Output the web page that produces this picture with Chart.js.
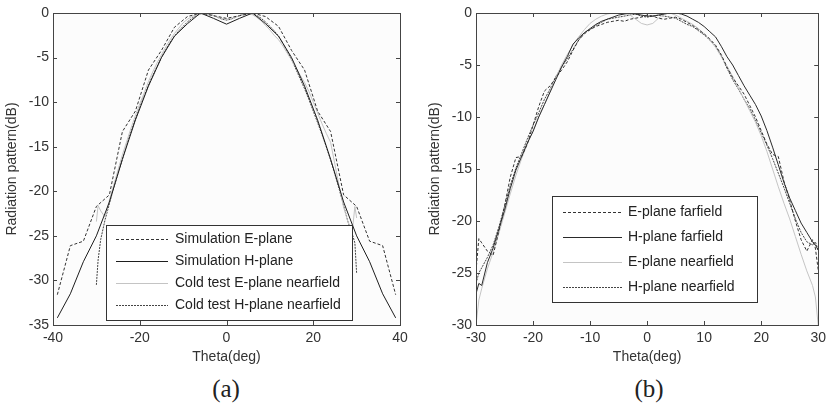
<!DOCTYPE html>
<html>
<head>
<meta charset="utf-8">
<script src="https://cdn.jsdelivr.net/npm/chart.js@4.4.0/dist/chart.umd.min.js"></script>
<style>
  body { margin:0; background:#fff; width:831px; height:406px; position:relative; overflow:hidden; }
  .box { position:absolute; top:0; height:370px; }
  #boxA { left:0; width:415px; }
  #boxB { left:415px; width:416px; }
  .cap { position:absolute; top:375px; width:100px; text-align:center; line-height:28px;
         font-family:"Liberation Serif","Times New Roman",serif; font-size:25px; color:#222; }
</style>
</head>
<body>
<div class="box" id="boxA"><canvas id="chartA"></canvas></div>
<div class="box" id="boxB"><canvas id="chartB"></canvas></div>
<div class="cap" style="left:176px">(a)</div>
<div class="cap" style="left:599px">(b)</div>
<script>
// ---- (a) simulation vs cold test ----
const simThetaA = [-39, -36, -33, -30, -27, -24, -21, -18, -15, -12, -9, -6, -3, 0, 3, 6, 9, 12, 15, 18, 21, 24, 27, 30, 33, 36, 39];
const simE_A = [-31.6, -26.1, -25.6, -21.7, -20.4, -13.3, -11.0, -6.4, -4.2, -1.6, -0.4, 0, -0.3, -0.6, -0.3, 0, -0.4, -1.5, -4.2, -6.4, -11.0, -13.3, -20.4, -21.7, -25.6, -26.1, -31.6];
const simH_A = [-34.2, -31.5, -27.9, -25.0, -21.2, -16.4, -12.0, -8.2, -5.0, -2.6, -1.2, 0, -0.6, -1.25, -0.6, 0, -1.2, -2.6, -5.0, -8.2, -12.0, -16.4, -21.2, -25.0, -27.9, -31.5, -34.2];

const nearThetaA = [-30, -29.6, -29, -28, -27, -26, -25, -24, -23, -22, -21, -20, -19, -18, -17, -16, -15, -14, -13, -12, -11, -10, -9, -8, -7, -6, -5, -4, -3, -2, -1,
  0, 1, 2, 3, 4, 5, 6, 7, 8, 9, 10, 11, 12, 13, 14, 15, 16, 17, 18, 19, 20, 21, 22, 23, 24, 25, 26, 27, 28, 29, 29.6, 30];
const nearE_A = [-23.4, -21.6, -22.2, -22.9, -21.0, -19.3, -17.6, -15.9, -14.4, -12.9, -11.5, -10.2, -9.0, -7.7, -6.6, -5.6, -4.7, -3.8, -3.0, -2.3, -1.7, -1.1, -0.7, -0.4, -0.2, -0.1, -0.1, -0.2, -0.3, -0.5, -0.6,
  -0.7, -0.6, -0.5, -0.3, -0.2, -0.1, -0.2, -0.5, -0.9, -1.4, -1.9, -2.5, -3.0, -3.7, -4.5, -5.3, -6.1, -7.0, -7.8, -8.8, -10.0, -11.2, -12.4, -13.5, -14.5, -17.0, -19.5, -21.8, -23.4, -24.5, -21.7, -23.0];
const nearH_A = [-30.5, -27.7, -25.4, -23.2, -21.4, -19.6, -18.0, -16.4, -14.8, -13.3, -11.9, -10.6, -9.3, -8.1, -7.0, -6.0, -5.0, -4.1, -3.3, -2.6, -2.0, -1.5, -1.0, -0.6, -0.3, -0.1, 0, -0.1, -0.3, -0.5, -0.7,
  -0.8, -0.7, -0.5, -0.3, -0.1, 0, -0.1, -0.3, -0.6, -1.0, -1.5, -2.0, -2.6, -3.4, -4.3, -5.2, -6.3, -7.4, -8.5, -9.7, -11.0, -12.3, -13.6, -15.0, -16.5, -18.1, -19.8, -21.6, -23.4, -24.8, -25.8, -29.2];

// ---- (b) farfield vs nearfield ----
const thetaB = [-30, -29.5, -29, -28, -27, -26, -25, -24, -23, -22, -21, -20, -19, -18, -17, -16, -15, -14, -13, -12, -11, -10, -9, -8, -7, -6, -5, -4, -3, -2, -1,
  0, 1, 2, 3, 4, 5, 6, 7, 8, 9, 10, 11, 12, 13, 14, 15, 16, 17, 18, 19, 20, 21, 22, 23, 24, 25, 26, 27, 28, 29, 29.5, 30];
const farE_B = [-24.8, -21.7, -22.1, -22.9, -23.3, -21.0, -18.6, -15.8, -13.9, -13.8, -12.6, -10.8, -9.0, -7.5, -7.0, -6.2, -5.5, -4.7, -3.6, -2.6, -2.0, -1.6, -1.3, -1.1, -0.9, -0.8, -0.7, -0.8, -0.6, -0.5, -0.4,
  -0.2, -0.3, -0.5, -0.6, -0.5, -0.4, -0.6, -0.9, -1.2, -1.6, -2.0, -2.5, -3.1, -4.0, -5.2, -6.2, -7.0, -7.8, -8.9, -10.0, -11.3, -12.6, -13.6, -13.8, -16.2, -18.0, -20.0, -21.8, -22.9, -21.8, -22.6, -24.7];
const farH_B = [-27.0, -26.0, -26.2, -24.0, -22.6, -20.8, -19.0, -16.9, -15.1, -13.8, -12.5, -11.4, -10.0, -8.8, -7.6, -6.4, -5.2, -4.2, -3.0, -2.4, -1.9, -1.5, -1.1, -0.8, -0.6, -0.4, -0.2, -0.1, 0, -0.1, -0.2,
  -0.3, -0.3, -0.2, -0.1, 0, 0, -0.1, -0.3, -0.6, -0.9, -1.3, -1.8, -2.3, -3.2, -4.2, -5.0, -6.0, -7.0, -7.9, -8.8, -9.9, -11.3, -12.9, -14.6, -16.3, -17.8, -19.0, -20.2, -21.1, -22.0, -22.3, -22.8];
const nearE_B = [-30.0, -27.6, -26.5, -24.6, -23.0, -21.2, -19.3, -17.4, -15.6, -14.0, -12.6, -11.3, -10.0, -8.8, -7.5, -6.2, -5.0, -4.0, -3.1, -2.3, -1.6, -1.0, -0.6, -0.3, -0.1, 0, 0, 0, -0.2, -0.6, -1.0,
  -1.15, -1.0, -0.5, -0.1, 0, -0.2, -0.5, -0.8, -1.1, -1.5, -2.0, -2.6, -3.3, -4.2, -5.1, -6.1, -7.2, -8.3, -9.4, -10.5, -11.8, -13.3, -15.0, -16.7, -18.3, -19.8, -21.5, -23.2, -24.8, -26.2, -27.3, -30.0];
const nearH_B = [-26.0, -25.0, -24.5, -23.5, -22.3, -20.6, -18.6, -16.6, -14.9, -13.5, -12.1, -10.8, -9.6, -8.3, -7.3, -6.1, -5.2, -4.4, -3.5, -2.6, -1.9, -1.6, -1.2, -0.9, -0.6, -0.5, -0.4, -0.3, -0.2, -0.1, -0.3,
  -0.4, -0.3, -0.2, -0.3, -0.4, -0.5, -0.8, -1.1, -1.3, -1.7, -2.1, -2.6, -3.2, -4.1, -5.3, -6.4, -7.3, -8.3, -9.2, -10.3, -11.5, -12.7, -14.0, -15.4, -16.8, -18.3, -19.8, -21.1, -22.0, -22.3, -22.0, -22.8];

const FONT = '"Liberation Sans", Arial, sans-serif';

function pts(xs, ys) {
  return xs.map(function(x, i){ return {x: x, y: ys[i]}; });
}

function line(label, xs, ys, color, dash) {
  return {label: label, data: pts(xs, ys), borderColor: color, borderWidth: 1,
    borderDash: dash, pointRadius: 0, tension: 0, fill: false};
}

// plot background, box frame and inward ticks on all four sides (matlab look)
const frameTicks = {
  id: 'frameTicks',
  beforeDatasetsDraw(chart) {
    const a = chart.chartArea, ctx = chart.ctx;
    ctx.save();
    ctx.fillStyle = '#fcfcfc';
    ctx.fillRect(a.left, a.top, a.right - a.left, a.bottom - a.top);
    ctx.restore();
  },
  afterDatasetsDraw(chart) {
    const a = chart.chartArea, ctx = chart.ctx, sx = chart.scales.x, sy = chart.scales.y;
    ctx.save();
    ctx.strokeStyle = '#444';
    ctx.lineWidth = 1;
    ctx.beginPath();
    sx.ticks.forEach(function(t){
      const p = Math.round(sx.getPixelForValue(t.value)) + 0.5;
      ctx.moveTo(p, a.bottom); ctx.lineTo(p, a.bottom - 4);
      ctx.moveTo(p, a.top); ctx.lineTo(p, a.top + 4);
    });
    sy.ticks.forEach(function(t){
      const p = Math.round(sy.getPixelForValue(t.value)) + 0.5;
      ctx.moveTo(a.left, p); ctx.lineTo(a.left + 4, p);
      ctx.moveTo(a.right, p); ctx.lineTo(a.right - 4, p);
    });
    ctx.stroke();
    ctx.strokeRect(Math.round(a.left) + 0.5, Math.round(a.top) + 0.5, Math.round(a.right - a.left), Math.round(a.bottom - a.top));
    ctx.restore();
  }
};

// legend box drawn inside the plot
const boxLegend = {
  id: 'boxLegend',
  afterDatasetsDraw(chart, args, o) {
    const ctx = chart.ctx;
    ctx.save();
    ctx.fillStyle = '#fff';
    ctx.fillRect(o.x, o.y, o.w, o.h);
    ctx.strokeStyle = '#333';
    ctx.lineWidth = 1;
    ctx.strokeRect(o.x + 0.5, o.y + 0.5, o.w, o.h);
    ctx.font = '14px ' + FONT;
    ctx.textBaseline = 'middle';
    chart.data.datasets.forEach(function(ds, i){
      const y = Math.round(o.y + o.first + i * o.gap) + 0.5;
      ctx.strokeStyle = ds.borderColor;
      ctx.setLineDash(ds.borderDash || []);
      ctx.beginPath();
      ctx.moveTo(o.lineX, y); ctx.lineTo(o.lineX + o.lineLen, y);
      ctx.stroke();
      ctx.setLineDash([]);
      ctx.fillStyle = '#222';
      ctx.fillText(ds.label, o.textX, y);
    });
    ctx.restore();
  }
};

function makeChart(id, datasets, xr, yr, pad, yWidth, yTitlePad, legend) {
  return new Chart(document.getElementById(id), {
    type: 'line',
    data: {datasets: datasets},
    plugins: [frameTicks, boxLegend],
    options: {
      responsive: true,
      maintainAspectRatio: false,
      animation: false,
      layout: {padding: pad},
      plugins: {legend: {display: false}, tooltip: {enabled: false}, boxLegend: legend},
      scales: {
        x: {
          type: 'linear', min: xr[0], max: xr[1],
          grid: {display: false, drawTicks: false},
          border: {display: false},
          ticks: {stepSize: xr[2], autoSkip: false, padding: 5, color: '#333', font: {family: FONT, size: 14}},
          title: {display: true, text: 'Theta(deg)', color: '#333', padding: {top: 2, bottom: 4}, font: {family: FONT, size: 14}},
          afterFit: function(s){ s.height = 45; }
        },
        y: {
          min: yr[0], max: yr[1],
          grid: {display: false, drawTicks: false},
          border: {display: false},
          ticks: {stepSize: 5, autoSkip: false, padding: 4, color: '#333', font: {family: FONT, size: 14}},
          title: {display: true, text: 'Radiation pattern(dB)', color: '#333', padding: {top: yTitlePad, bottom: 0}, font: {family: FONT, size: 14}},
          afterFit: function(s){ s.width = yWidth; }
        }
      }
    }
  });
}

makeChart('chartA', [
  line('Simulation E-plane', simThetaA, simE_A, '#333', [3, 2]),
  line('Simulation H-plane', simThetaA, simH_A, '#1e1e1e', []),
  line('Cold test E-plane nearfield', nearThetaA, nearE_A, '#c4c4c4', []),
  line('Cold test H-plane nearfield', nearThetaA, nearH_A, '#444', [2, 1])
], [-40, 40, 20], [-35, 0], {top: 13, right: 15, left: 0, bottom: 0}, 53, 4,
  {x: 106, y: 225, w: 246, h: 95, first: 14, gap: 22, lineX: 116, lineLen: 52, textX: 175});

makeChart('chartB', [
  line('E-plane farfield', thetaB, farE_B, '#333', [3, 2]),
  line('H-plane farfield', thetaB, farH_B, '#2a2a2a', []),
  line('E-plane nearfield', thetaB, nearE_B, '#c4c4c4', []),
  line('H-plane nearfield', thetaB, nearH_B, '#444', [2, 1])
], [-30, 30, 10], [-30, 0], {top: 13, right: 8, left: 0, bottom: 0}, 61, 12,
  {x: 137, y: 196, w: 205, h: 106, first: 16, gap: 25, lineX: 148, lineLen: 59, textX: 213});
</script>
</body>
</html>
